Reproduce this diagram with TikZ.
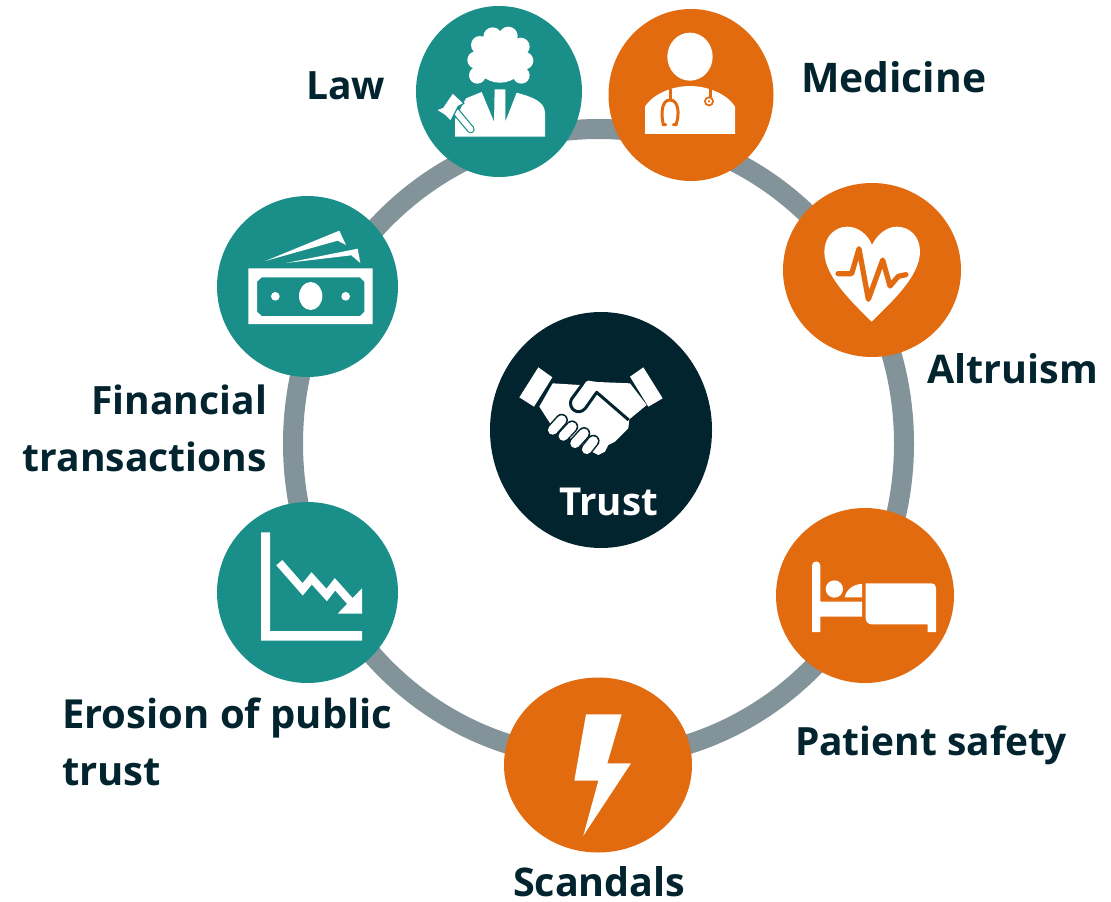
\documentclass[tikz,border=0pt]{standalone}
\usepackage{fontspec}
\setmainfont{Open Sans}[BoldFont=* Bold]
\usetikzlibrary{shapes.geometric}
\definecolor{tealc}{HTML}{1A8F8A}
\definecolor{orangec}{HTML}{E26A0F}
\definecolor{ringc}{HTML}{82939A}
\definecolor{darkc}{HTML}{02242E}
\tikzset{
  disc/.style={ellipse,inner sep=0pt,outer sep=0pt,minimum width=#1},
  lab/.style={inner sep=0pt,outer sep=0pt,text=darkc,font=\fontsize{#1}{57}\selectfont\bfseries},
}
\begin{document}
\begin{tikzpicture}[x=1pt,y=-1pt]
\useasboundingbox (0,0) rectangle (1111,902);
\fill[white] (0,0) rectangle (1111,902);
% ring
\draw[ringc,line width=20pt] (598.5,443.5) ellipse [x radius=305.5,y radius=314.5];
% discs
\node[disc=166pt,minimum height=171pt,fill=tealc] (law) at (499,91.5) {};
\node[disc=165pt,minimum height=172pt,fill=orangec] (medicine) at (691,95) {};
\node[disc=178pt,minimum height=174pt,fill=orangec] (altruism) at (872,270) {};
\node[disc=178pt,minimum height=175pt,fill=orangec] (patient) at (865,595.5) {};
\node[disc=188pt,minimum height=175pt,fill=orangec] (scandals) at (598,765) {};
\node[disc=181pt,minimum height=181pt,fill=tealc] (erosion) at (307.5,592.5) {};
\node[disc=181pt,minimum height=181pt,fill=tealc] (finance) at (307.5,286.5) {};
\node[disc=222pt,minimum height=236pt,fill=darkc] (trust) at (601,430) {};
% labels
\node[lab=39,anchor=base west] (tlaw) at (306,99) {Law};
\node[lab=40.8,anchor=base west] (tmed) at (801,92) {Medicine};
\node[lab=39.5,anchor=base west] (talt) at (927,383) {Altruism};
\node[lab=38.9,anchor=base west] (tpat) at (795,755) {Patient safety};
\node[lab=39.5,anchor=base west] (tsca) at (513,896) {Scandals};
\node[lab=39,anchor=base east,align=right] (tfin) at (267,471) {Financial\\transactions};
\node[lab=40,anchor=base west,align=left] (tero) at (62,785) {Erosion of public\\trust};
\node[lab=38.5,anchor=base west,text=white] (ttru) at (559,515) {Trust};
% law icon
\begin{scope}[shift={(400,0)},scale=0.33333]
  \fill[white] (278,110) circle (28) (325,108) circle (28) (362,140) circle (27) (374,182) circle (26) (364,226) circle (25)
    (240,135) circle (27) (228,180) circle (26) (232,226) circle (25) (300,180) ellipse (75 and 68);
  \fill[white] (165,410) -- (165,358) -- (198,295) -- (245,276) -- (282,365) -- (284,268) -- (316,268) -- (316,365) -- (350,278)
    .. controls (400,292) and (435,305) .. (435,340) -- (435,410) -- cycle;
  \draw[tealc,line width=8pt,line cap=round] (168,335) -- (212,388);
  \draw[white,line width=5.6pt,line cap=round] (168,335) -- (212,388);
  \filldraw[fill=white,draw=tealc,line width=1.2pt,line join=round] (108,330) -- (128,322) -- (158,278) -- (192,310) -- (174,320) -- (152,364) -- (134,346) -- cycle;
\end{scope}
% medicine icon
\begin{scope}[shift={(400,0)},scale=0.33333]
  \fill[white] (870,170) ellipse (68 and 72);
  \fill[white] (735,402) -- (735,320) .. controls (760,280) and (820,258) .. (870,258) .. controls (920,258) and (980,280) .. (1005,320) -- (1005,402) -- cycle;
  \draw[orangec,line width=3pt] (810,268) -- (810,300);
  \draw[orangec,line width=3pt,line cap=round] (797,374) -- (790,374) .. controls (782,340) and (785,300) .. (810,300) .. controls (835,300) and (840,340) .. (828,374) -- (820,374);
  \draw[orangec,line width=3pt] (930,268) -- (930,292);
  \fill[orangec] (927,304) circle (15);
  \fill[white] (927,304) circle (9);
  \fill[orangec] (927,304) circle (4);
\end{scope}
% money icon
\begin{scope}[shift={(210,190)},scale=0.33333]
  \fill[white,even odd rule] (115,235) rectangle (488,402)
     (155,262) -- (450,262) -- (463,275) -- (463,365) -- (450,378) -- (155,378) -- (141,365) -- (141,275) -- cycle;
  \fill[white] (302,318) ellipse (35 and 42) (196,319) circle (13) (407,319) circle (13);
  \fill[white] (166,213) -- (388,122) -- (408,165) -- (383,152) -- cycle;
  \fill[white] (228,219) -- (443,176) -- (451,219) -- (424,196) -- cycle;
\end{scope}
% heart icon
\begin{scope}[shift={(770,180)},scale=0.33333]
  \fill[white] (305,425) .. controls (250,370) and (163,290) .. (163,215) .. controls (163,170) and (195,140) .. (232,140)
     .. controls (265,140) and (295,165) .. (306,195) .. controls (320,165) and (350,140) .. (380,140)
     .. controls (420,140) and (450,170) .. (450,215) .. controls (450,290) and (360,370) .. (305,425) -- cycle;
  \draw[orangec,line width=5.2pt,line join=round,line cap=round] (204,281) -- (245,281) -- (267,206) -- (295,358) -- (338,240) -- (360,318) -- (385,289) -- (408,284);
\end{scope}
% handshake icon
\begin{scope}[shift={(510,360)},scale=0.33333]
  \fill[white] (85,22) -- (127,52) -- (72,140) -- (28,112) -- cycle;
  \fill[white] (400,22) -- (360,50) -- (415,140) -- (458,115) -- cycle;
  \fill[white] (88,140) -- (128,70) -- (210,75) -- (235,62) -- (262,66) -- (360,70) -- (410,135) -- (358,178) -- (355,205) -- (335,225)
     -- (315,245) -- (295,255) -- (285,275) -- (265,285) -- (245,275) -- (215,255) -- (130,205) -- cycle;
  \draw[darkc,line width=3pt,line join=round] (224,62) -- (212,80) -- (184,118) .. controls (172,145) and (205,170) .. (226,145) -- (260,97) -- (356,180);
  \foreach \a/\b/\c/\d in {128/210/155/180, 160/228/186/200, 195/250/222/220, 230/268/250/243} {
    \draw[darkc,line width=12.5pt,line cap=round] (\a,\b) -- (\c,\d);
    \draw[white,line width=9.5pt,line cap=round] (\a,\b) -- (\c,\d);
  }
\end{scope}
% chart icon
\begin{scope}[shift={(210,500)},scale=0.33333]
  \fill[white] (153,97) -- (180,97) -- (180,393) -- (456,393) -- (456,422) -- (153,422) -- cycle;
  \draw[white,line width=8pt,miter limit=10] (208,188) -- (278,268) -- (305,235) -- (350,285) -- (375,253) -- (435,320);
  \fill[white] (456,265) -- (456,341) -- (383,341) -- cycle;
\end{scope}
% bed icon
\begin{scope}[shift={(770,500)},scale=0.33333]
  \fill[white] (126,396) -- (126,197) .. controls (126,180) and (151,180) .. (151,197) -- (151,305) -- (276,305) -- (276,350) -- (151,350) -- (151,396) -- cycle;
  \fill[white] (193,267) circle (26);
  \fill[white] (224,292) -- (276,292) -- (276,252) .. controls (250,252) and (228,270) .. (224,292) -- cycle;
  \fill[white] (287,250) -- (485,250) .. controls (492,250) and (498,256) .. (498,263) -- (498,396) -- (473,396) -- (473,373) -- (305,373) .. controls (295,373) and (287,365) .. (287,355) -- cycle;
\end{scope}
% bolt icon
\begin{scope}[shift={(495,675)},scale=0.33333]
  \fill[white] (273,118) -- (380,118) -- (337,265) -- (408,265) -- (265,482) -- (310,317) -- (238,317) -- cycle;
\end{scope}
\end{tikzpicture}
\end{document}
